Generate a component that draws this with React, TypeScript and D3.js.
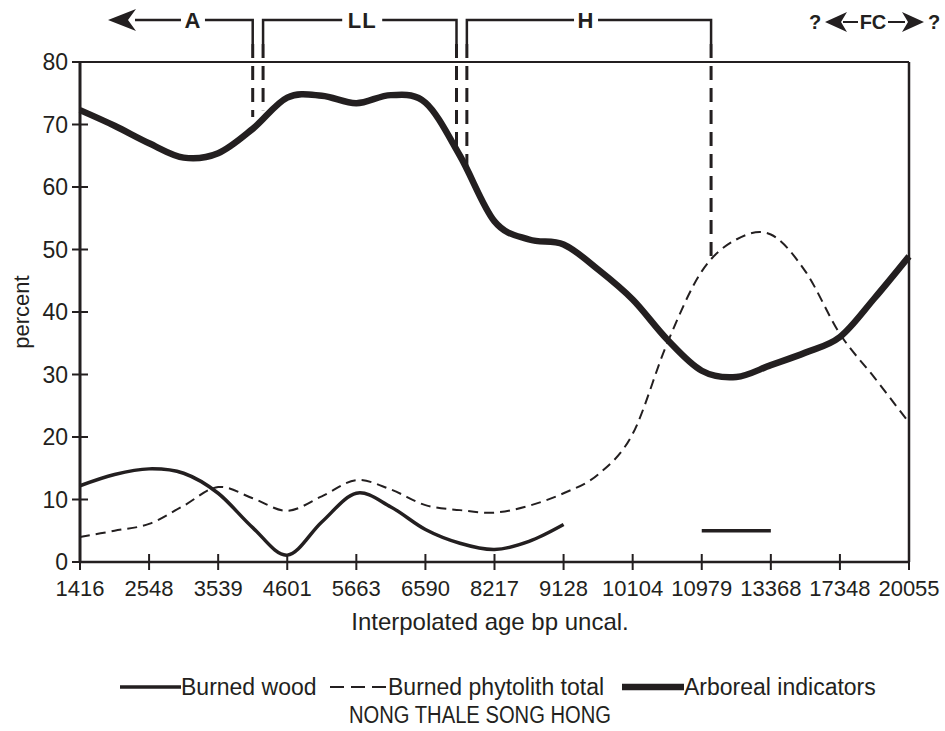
import React from "react";
import * as d3 from "d3";

const ageLabels = ["1416","2548","3539","4601","5663","6590","8217","9128","10104","10979","13368","17348","20055"];
const yTicks = [0,10,20,30,40,50,60,70,80];

// 25 samples (two per labelled interval)
const arboreal = [72.3,69.8,67.0,64.7,65.4,69.3,74.3,74.6,73.4,74.7,73.5,65.0,54.5,51.6,50.8,46.8,42.0,35.6,30.6,29.6,31.5,33.5,36.0,42.2,48.9];
const phytolith = [4.0,5.0,6.1,9.0,12.0,10.2,8.2,10.5,13.1,11.6,9.1,8.3,7.9,9.0,11.0,14.0,20.5,35.0,46.5,51.6,52.4,46.5,36.5,29.5,22.3];
const burnedWood: (number|null)[] = [12.2,14.0,14.9,14.2,11.0,5.5,1.1,6.4,11.0,8.8,5.2,3.0,2.0,3.3,6.0,null,null,null,5,5,5,null,null,null,null];

// zone brackets (x in sample index units)
const zoneLabels = ["A","LL","H"];
const zoneStarts = [null, 5.3, 11.2];
const zoneEnds = [5.0, 10.9, 18.27];
const zoneLabelPos = [3.27, 8.17, 14.65];
const dividerX = [5.0, 5.3, 10.9, 11.2, 18.27];
const dividerEnd = [71.2, 72.3, 65.6, 61.8, 48.0];

const legendItems = ["Burned wood","Burned phytolith total","Arboreal indicators"];
const title = "NONG THALE SONG HONG";

const INK = "#231f20";
const FONT = "'Liberation Sans', Arial, Helvetica, sans-serif";

export default function App() {
  const W = 945, H = 731;
  const left = 80, right = 909, top = 62, bottom = 562;
  const x = d3.scaleLinear().domain([0, 24]).range([left, right]);
  const y = d3.scaleLinear().domain([0, 80]).range([bottom, top]);
  const curve = d3.curveCardinal.tension(0);
  const line = d3.line<number | null>()
    .defined(d => d != null)
    .x((_, i) => x(i))
    .y(d => y(d as number))
    .curve(curve);

  const bracketY = 20;
  const arrowHead = (tx: number, ty: number, dir: number, L: number, Wd: number, N: number) =>
    `M${tx},${ty} L${tx - dir * L},${ty - Wd} L${tx - dir * (L - N)},${ty} L${tx - dir * L},${ty + Wd} Z`;

  const legY = 687;

  return (
    <svg width={W} height={H} style={{ display: "block", position: "absolute", left: 0, top: 0, background: "#fff" }}>
      <rect x={0} y={0} width={W} height={H} fill="#fff" />
      {/* frame */}
      <line x1={left} x2={right} y1={top} y2={top} stroke={INK} strokeWidth={2} />
      <line x1={right} x2={right} y1={top} y2={bottom} stroke={INK} strokeWidth={2.5} />
      <line x1={left} x2={left} y1={top} y2={bottom} stroke={INK} strokeWidth={3} />
      <line x1={left} x2={right} y1={bottom} y2={bottom} stroke={INK} strokeWidth={2.5} />
      {/* y ticks */}
      {yTicks.map(t => (
        <g key={"y" + t}>
          <line x1={left - 8} x2={left + 8} y1={y(t)} y2={y(t)} stroke={INK} strokeWidth={2} />
          <text x={left - 12} y={y(t)} dy="0.36em" textAnchor="end" fontFamily={FONT} fontSize={23} fill={INK}>{t}</text>
        </g>
      ))}
      {/* x ticks */}
      {ageLabels.map((l, k) => (
        <g key={"x" + k}>
          <line x1={x(k * 2)} x2={x(k * 2)} y1={bottom - 8} y2={bottom + 8} stroke={INK} strokeWidth={2} />
          <text x={x(k * 2)} y={bottom + 34} textAnchor="middle" fontFamily={FONT} fontSize={22} fill={INK}>{l}</text>
        </g>
      ))}
      <text x={490} y={630} textAnchor="middle" fontFamily={FONT} fontSize={24} fill={INK}>Interpolated age bp uncal.</text>
      <text transform={`translate(29,${(top + bottom) / 2}) rotate(-90)`} textAnchor="middle" fontFamily={FONT} fontSize={22} fill={INK}>percent</text>

      {/* data */}
      <path d={line(phytolith) || ""} fill="none" stroke={INK} strokeWidth={2} strokeDasharray="10 6" />
      <path d={line(burnedWood) || ""} fill="none" stroke={INK} strokeWidth={3.5} />
      <path d={line(arboreal) || ""} fill="none" stroke={INK} strokeWidth={6.5} strokeLinejoin="round" />

      {/* zone dividers */}
      {dividerX.map((dx, k) => (
        <line key={"dv" + k} x1={x(dx)} x2={x(dx)} y1={bracketY + 24} y2={y(dividerEnd[k])} stroke={INK} strokeWidth={3} strokeDasharray="14 8" />
      ))}
      {zoneLabels.map((lab, k) => {
        const s = zoneStarts[k];
        const e = zoneEnds[k];
        const x0 = s == null ? 135 : x(s);
        const x1 = x(e);
        return (
          <g key={"z" + k}>
            {s != null && <path d={`M${x0},${bracketY + 24} V${bracketY} H${x1} V${bracketY + 24}`} fill="none" stroke={INK} strokeWidth={2.5} />}
            {s == null && <path d={`M${x0},${bracketY} H${x1} V${bracketY + 24}`} fill="none" stroke={INK} strokeWidth={2.5} />}
            {s == null && <path d={arrowHead(108, bracketY, -1, 28, 11, 8)} fill={INK} />}
            <rect x={x(zoneLabelPos[k]) - (lab.length * 8 + 4)} y={bracketY - 12} width={lab.length * 16 + 8} height={24} fill="#fff" />
            <text x={x(zoneLabelPos[k])} y={bracketY} dy="0.36em" textAnchor="middle" fontFamily={FONT} fontWeight="bold" fontSize={22} letterSpacing={1} fill={INK}>{lab}</text>
          </g>
        );
      })}
      {/* FC */}
      <g>
        <text x={815} y={bracketY + 2} dy="0.36em" textAnchor="middle" fontFamily={FONT} fontWeight="bold" fontSize={20} fill={INK}>?</text>
        <path d={arrowHead(825, bracketY + 2, -1, 22, 10, 6)} fill={INK} />
        <line x1={843} x2={858} y1={bracketY + 2} y2={bracketY + 2} stroke={INK} strokeWidth={2} />
        <text x={873} y={bracketY + 2} dy="0.36em" textAnchor="middle" fontFamily={FONT} fontWeight="bold" fontSize={20} fill={INK}>FC</text>
        <line x1={888} x2={905} y1={bracketY + 2} y2={bracketY + 2} stroke={INK} strokeWidth={2} />
        <path d={arrowHead(924, bracketY + 2, 1, 22, 10, 6)} fill={INK} />
        <text x={934} y={bracketY + 2} dy="0.36em" textAnchor="middle" fontFamily={FONT} fontWeight="bold" fontSize={20} fill={INK}>?</text>
      </g>

      {/* legend */}
      <g fontFamily={FONT} fontSize={23} fill={INK}>
        <line x1={120} x2={181} y1={legY} y2={legY} stroke={INK} strokeWidth={3.5} />
        <text x={181} y={legY} dy="0.36em">{legendItems[0]}</text>
        <line x1={330} x2={388} y1={legY} y2={legY} stroke={INK} strokeWidth={2} strokeDasharray="14 7" />
        <text x={388} y={legY} dy="0.36em">{legendItems[1]}</text>
        <line x1={622} x2={684} y1={legY} y2={legY} stroke={INK} strokeWidth={6.5} />
        <text x={684} y={legY} dy="0.36em">{legendItems[2]}</text>
        <text x={480} y={715} dy="0.36em" textAnchor="middle" fontSize={23} textLength={262} lengthAdjust="spacingAndGlyphs">{title}</text>
      </g>
    </svg>
  );
}
